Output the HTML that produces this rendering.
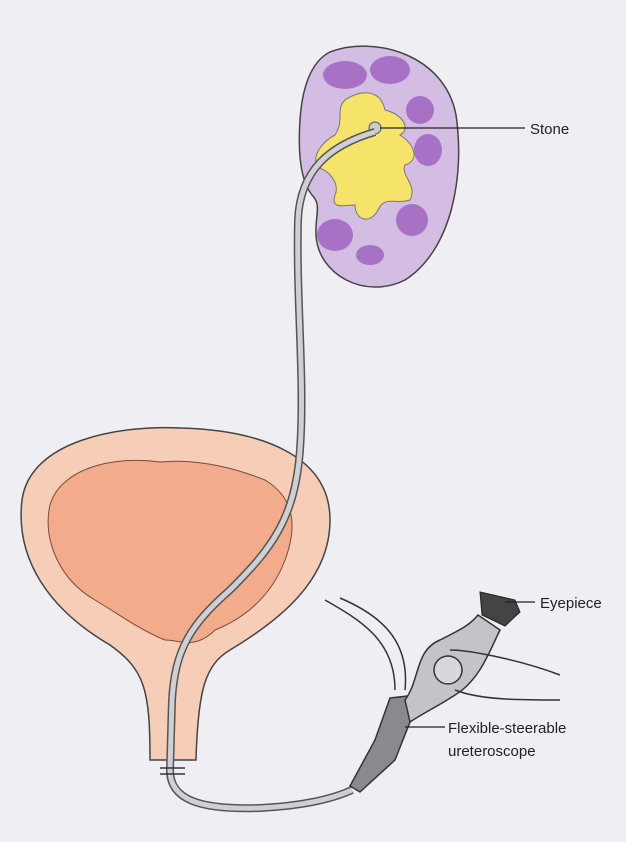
<!DOCTYPE html>
<html><head><style>
html,body{margin:0;padding:0;background:#efeef3;}
svg{display:block}
text{font-family:"Liberation Sans",sans-serif;font-size:15px;fill:#222}
</style></head><body>
<svg width="626" height="842" viewBox="0 0 626 842">
<rect width="626" height="842" fill="#efeef3"/>
<!-- Bladder -->
<path d="M22,500 C30,440 120,425 180,428 C260,430 330,455 330,520 C330,580 280,620 230,650 C205,665 198,690 196,760 L150,760 C150,690 145,670 110,645 C50,610 15,560 22,500 Z" fill="#f6cdb6" stroke="#444" stroke-width="1.5"/>
<path d="M50,505 C60,470 110,455 160,462 C200,458 240,470 265,480 C290,495 300,520 285,560 C270,600 240,620 215,630 C195,650 180,640 165,640 C140,630 120,615 95,600 C60,580 42,540 50,505 Z" fill="#f2ab8b" stroke="#7a4a3a" stroke-width="1"/>
<!-- Kidney -->
<path d="M330,52 C375,35 445,55 456,115 C465,175 452,250 405,280 C365,300 318,275 316,235 C315,215 322,205 312,195 C300,180 298,150 300,120 C302,90 310,62 330,52 Z" fill="#d4bde2" stroke="#444" stroke-width="1.5"/>
<g fill="#a772c5">
<ellipse cx="345" cy="75" rx="22" ry="14"/><ellipse cx="390" cy="70" rx="20" ry="14"/>
<ellipse cx="420" cy="110" rx="14" ry="14"/><ellipse cx="428" cy="150" rx="14" ry="16"/>
<ellipse cx="412" cy="220" rx="16" ry="16"/><ellipse cx="335" cy="235" rx="18" ry="16"/>
<ellipse cx="370" cy="255" rx="14" ry="10"/>
</g>
<path d="M345,100 C360,90 380,88 385,110 C405,115 410,130 400,135 C415,145 420,160 405,165 C400,175 418,185 410,200 C395,205 385,195 378,210 C370,225 355,220 355,205 C345,205 330,210 335,195 C340,185 330,170 318,168 C310,155 325,140 335,135 C345,120 335,110 345,100 Z" fill="#f5e36a" stroke="#777" stroke-width="1"/>
<circle cx="375" cy="128" r="6" fill="#ccc" stroke="#555"/>
<!-- Ureter / scope tube -->
<path d="M375,132 C330,145 300,170 298,220 C296,300 305,380 300,450 C295,520 270,550 230,590 C190,625 175,650 172,700 L170,770 C170,800 200,810 260,808 C300,806 330,800 352,790" fill="none" stroke="#555" stroke-width="8"/>
<path d="M375,132 C330,145 300,170 298,220 C296,300 305,380 300,450 C295,520 270,550 230,590 C190,625 175,650 172,700 L170,770 C170,800 200,810 260,808 C300,806 330,800 352,790" fill="none" stroke="#d0d0d4" stroke-width="5"/>
<line x1="160" y1="768" x2="185" y2="768" stroke="#333" stroke-width="1.5"/>
<line x1="160" y1="774" x2="185" y2="774" stroke="#333" stroke-width="1.5"/>
<!-- Scope -->
<path d="M325,600 C360,620 395,640 395,690" fill="none" stroke="#333" stroke-width="1.5"/>
<path d="M340,598 C380,615 410,640 405,690" fill="none" stroke="#333" stroke-width="1.5"/>
<path d="M390,698 L408,696 L410,722 L395,760 L360,792 L350,786 L375,740 Z" fill="#8a8a8e" stroke="#333" stroke-width="1.5"/>
<path d="M405,700 C420,680 415,650 440,640 C460,630 470,625 478,615 L500,630 C490,650 480,680 455,695 C440,705 420,715 410,722 Z" fill="#c4c4c8" stroke="#333" stroke-width="1.5"/>
<path d="M450,650 C470,650 520,660 560,675 M455,690 C480,700 520,700 560,700" fill="none" stroke="#333" stroke-width="1.5"/>
<circle cx="448" cy="670" r="14" fill="#d8d8dc" stroke="#333" stroke-width="1.5"/>
<path d="M480,592 L515,600 L520,612 L505,626 L482,615 Z" fill="#444" stroke="#222"/>
<!-- labels -->
<line x1="380" y1="128" x2="525" y2="128" stroke="#222" stroke-width="1.2"/>
<text x="530" y="134">Stone</text>
<line x1="505" y1="602" x2="535" y2="602" stroke="#222" stroke-width="1.2"/>
<text x="540" y="608">Eyepiece</text>
<line x1="405" y1="727" x2="445" y2="727" stroke="#222" stroke-width="1.2"/>
<text x="448" y="733">Flexible-steerable</text>
<text x="448" y="756">ureteroscope</text>
</svg>
</body></html>
